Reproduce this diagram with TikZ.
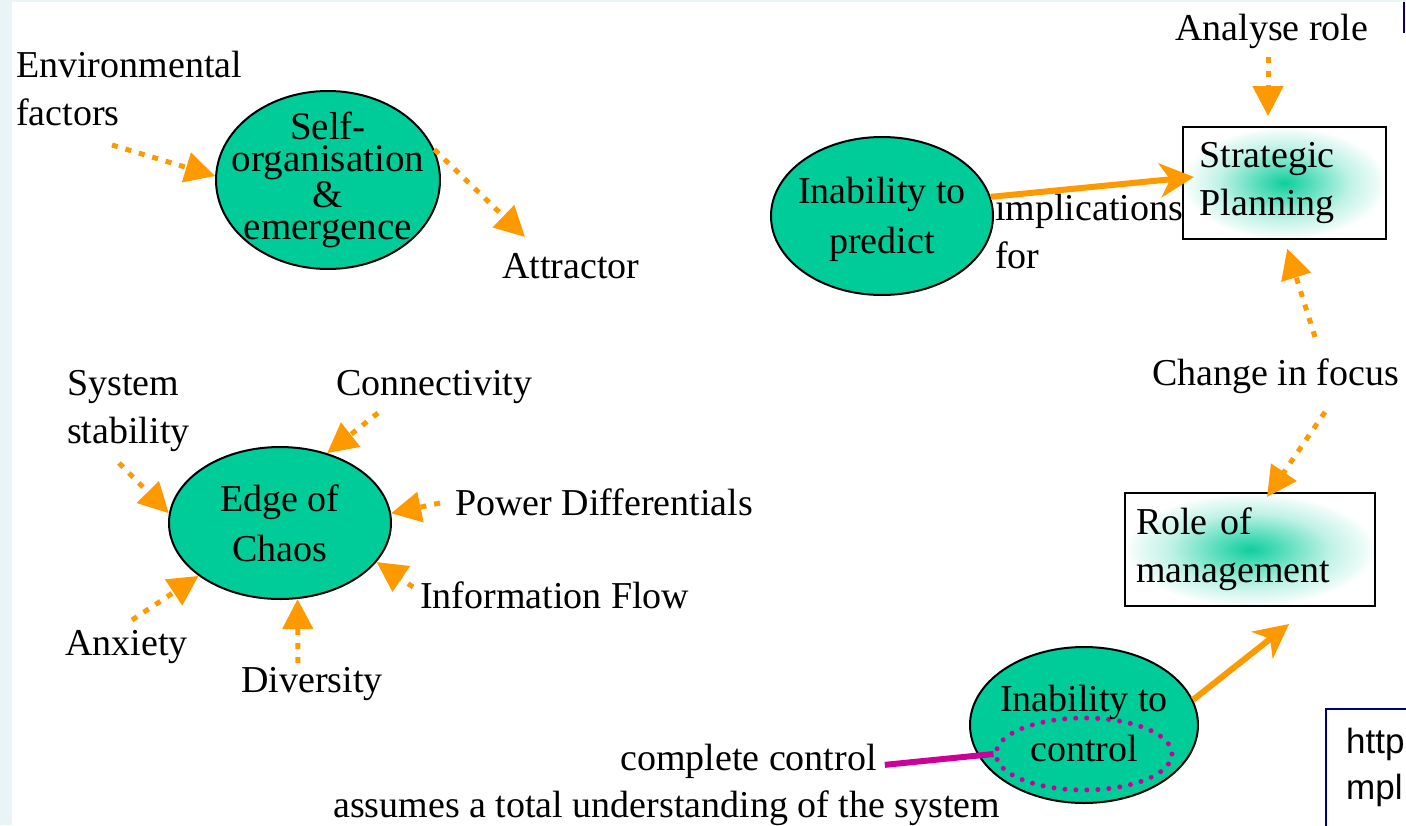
\documentclass[tikz,border=0pt]{standalone}
\usepackage{fontspec}
\setmainfont{Liberation Serif}
\newfontfamily\sansf{Liberation Sans}
\usetikzlibrary{arrows.meta,shapes.geometric,calc}
\definecolor{eorange}{RGB}{255,153,0}
\definecolor{egreen}{RGB}{0,204,153}
\definecolor{emag}{RGB}{204,0,153}
\definecolor{enavy}{RGB}{0,0,128}
\definecolor{estrip}{RGB}{232,244,246}
\colorlet{glowA}{egreen!95!white}
\colorlet{glowB}{egreen!60!white}
\colorlet{glowC}{egreen!25!white}
\colorlet{glowD}{egreen!7!white}
\pgfdeclareradialshading{boxglow}{\pgfpoint{0bp}{0bp}}{color(0bp)=(glowA); color(8bp)=(glowB); color(16bp)=(glowC); color(23bp)=(glowD); color(25bp)=(white); color(50bp)=(white)}
\begin{document}
\begin{tikzpicture}[x=1pt,y=-1pt,
  every node/.style={font=\fontsize{38}{48}\selectfont},
  lbl/.style={inner sep=0pt, anchor=base west, align=left},
  blob/.style={ellipse, draw=black, line width=2pt, fill=egreen, inner sep=0pt},
  intext/.style={inner sep=0pt, align=center},
  boxnode/.style={rectangle, draw=black, line width=2pt, shade, shading=boxglow, inner ysep=0pt, align=left},
  dotarrow/.style={draw=eorange, line width=5pt, dash pattern=on 6pt off 8pt, -{Triangle[length=30pt,width=30pt]}},
  solidarrow/.style={draw=eorange, line width=6pt, -{Stealth[length=34pt,width=34pt,inset=10pt]}},
]
\useasboundingbox (0,0) rectangle (1406,825);
\clip (0,0) rectangle (1406,825);
\fill[white] (0,0) rectangle (1406,825);
\fill[estrip] (0,0) rectangle (12,825);
\fill[estrip] (0,0) rectangle (1406,2);

% ellipses
\node[blob, minimum width=224pt, minimum height=178pt] (self) at (328,180) {};
\node[intext, font=\fontsize{39}{32}\selectfont] (selft) at (self.center) {Self-\\organisation\\\&\\emergence};
\node[blob, minimum width=222pt, minimum height=158pt] (pred) at (882,216) {};
\node[intext, font=\fontsize{38}{50}\selectfont] (predt) at ([yshift=-3.5pt]pred.center) {Inability to\\predict};
\node[blob, minimum width=222pt, minimum height=152pt] (edge) at (280,523) {};
\node[intext, font=\fontsize{38}{50}\selectfont] (edget) at (edge.center) {Edge of\\Chaos};
\node[blob, minimum width=228pt, minimum height=156pt] (ctrl) at (1084,725) {};
\node[ellipse, draw=emag, line width=5pt, dash pattern=on 0pt off 11pt, line cap=round, minimum width=176pt, minimum height=72pt, inner sep=0pt] (ctrlin) at (1084,754) {};
\node[intext, font=\fontsize{38}{50}\selectfont] (ctrlt) at (1084,723) {Inability to\\control};

% boxes
\node[boxnode, minimum width=203pt, minimum height=112pt, text width=170pt, inner xsep=16pt] (strat) at (1284.5,183) {Strategic\\Planning};
\node[boxnode, minimum width=250pt, minimum height=113pt, text width=228pt, inner xsep=11pt] (role) at (1250,549.5) {Role of\\management};

% labels (base anchor = baseline of last line)
\node[lbl] (env) at (16,125) {Environmental\\factors};
\node[lbl] (attr) at (502,278) {Attractor};
\node[lbl] (impl) at (995,268) {implications\\for};
\node[lbl] (anal) at (1175,40) {Analyse role};
\node[lbl] (focus) at (1152,385) {Change in focus};
\node[lbl] (sys) at (67,443) {System\\stability};
\node[lbl] (conn) at (336,395) {Connectivity};
\node[lbl] (pow) at (455,515) {Power Differentials};
\node[lbl] (info) at (420,608) {Information Flow};
\node[lbl] (anx) at (65,655) {Anxiety};
\node[lbl] (div) at (241,692) {Diversity};
\node[lbl] (cc) at (620,770) {complete control};
\node[lbl] (assume) at (333,817) {assumes a total understanding of the system};

% free ends
\coordinate (envtail) at (112,145);
\coordinate (attrtip) at (525,237);
\coordinate (analtail) at (1268,57);
\coordinate (f1) at (1315,337);
\coordinate (f2) at (1325,412);
\coordinate (sstail) at (119,463);
\coordinate (conntail) at (378,413);
\coordinate (powtail) at (440,503);
\coordinate (infotail) at (413,587);
\coordinate (divtail) at (298,663);
\coordinate (anxtail) at (132,620);

% connectors
\draw[dotarrow] (envtail) -- (self.178);
\draw[dotarrow] (self.16) -- (attrtip);
\draw[dotarrow, shorten >=10pt] (analtail) -- (analtail |- strat.north);
\draw[dotarrow, shorten >=9pt] (f1) -- (strat.south);
\draw[dotarrow] (f2) -- ($(role.north)+(17,5)$);
\draw[solidarrow] (pred.10) -- ($(strat.west)+(12,-6)$);
\draw[solidarrow] (ctrl.13) -- ($(role.south)+(39,17)$);
\draw[emag, line width=6pt] ($(cc.east)+(8,4)$) -- (ctrlin.west);

\draw[dotarrow] (sstail) -- (edge.175);
\draw[dotarrow] (conntail) -- (edge.56);
\draw[dotarrow] (powtail) -- (edge.5);
\draw[dotarrow] (infotail) -- (edge.-22);
\draw[dotarrow] (divtail) -- (edge.-77);
\draw[dotarrow] (anxtail) -- (edge.213);

% partial frames at right edge
\draw[enavy, line width=1.5pt] (1404,2) -- (1404,33);
\node[draw=enavy, line width=1.5pt, fill=white, minimum width=100pt, minimum height=130pt, anchor=north west, inner sep=0pt] (url) at (1325,708) {};
\node[lbl, font=\sansf\fontsize{35}{46}\selectfont] (urlt) at (1346,799) {http\\mpl};
\end{tikzpicture}
\end{document}
